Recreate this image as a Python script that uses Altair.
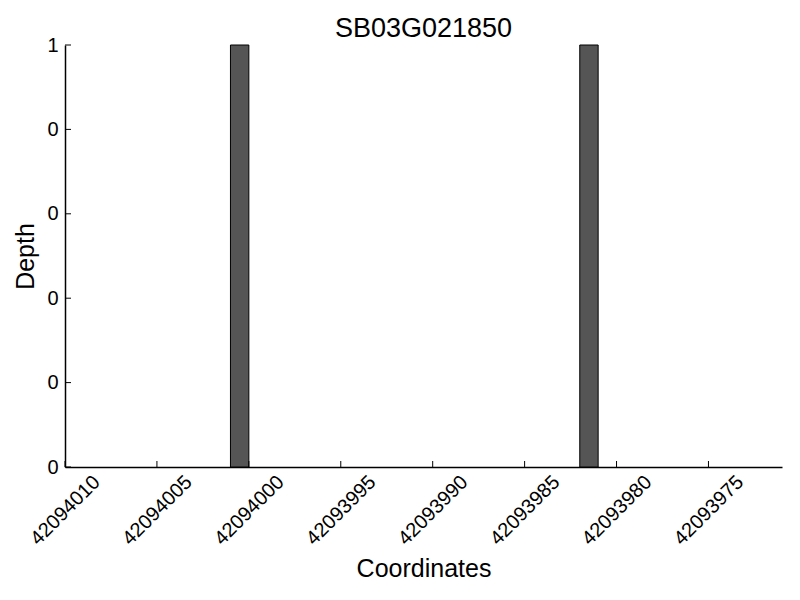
import altair as alt
import pandas as pd

# data
bar_start = [42094000, 42093981]
bar_end = [42094001, 42093982]
depth = [1, 1]
x_ticks = [42094010, 42094005, 42094000, 42093995, 42093990, 42093985, 42093980, 42093975]
y_ticks = [0, 0.2, 0.4, 0.6, 0.8, 1.0]
x_domain = [42093971, 42094010]

W, H = 717, 422
FONT = "Liberation Sans"

bars = pd.DataFrame({"x": bar_start, "x2": bar_end, "y": depth})
xt = pd.DataFrame({"x": x_ticks})
yt = pd.DataFrame({"y": y_ticks})

xscale = alt.Scale(domain=x_domain, reverse=True, nice=False, zero=False)
yscale = alt.Scale(domain=[0, 1], nice=False)

xaxis = alt.Axis(values=x_ticks, format="d", labelAngle=-45, labelAlign="center",
                 labelBaseline="middle", labelPadding=43, tickSize=0,
                 labelFontSize=20, titleFontSize=25, labelFont=FONT, titleFont=FONT,
                 labelColor="black", titleColor="black", domainColor="black",
                 domainWidth=1.5, grid=False, titleFontWeight="normal",
                 titlePadding=8, labelOverlap=False, labelFlush=False)
yaxis = alt.Axis(values=y_ticks, labelExpr="'' + floor(datum.value)", tickSize=0,
                 labelPadding=7, labelFontSize=20, titleFontSize=25,
                 labelFont=FONT, titleFont=FONT, labelColor="black",
                 titleColor="black", domainColor="black", domainWidth=1.5,
                 grid=False, titleFontWeight="normal", titlePadding=8,
                 labelOverlap=False, labelFlush=False)

bar_layer = alt.Chart(bars).mark_rect(fill="#555555", stroke="black", strokeWidth=1).encode(
    x=alt.X("x:Q", scale=xscale, title="Coordinates", axis=xaxis),
    x2="x2:Q",
    y=alt.Y("y:Q", scale=yscale, title="Depth", axis=yaxis),
    y2=alt.Y2(datum=0),
)

xtick_layer = alt.Chart(xt).mark_rule(color="black", strokeWidth=1).encode(
    x=alt.X("x:Q", scale=xscale, title="Coordinates", axis=xaxis),
    y=alt.value(H),
    y2=alt.value(H - 6),
)

ytick_layer = alt.Chart(yt).mark_rule(color="black", strokeWidth=1).encode(
    y=alt.Y("y:Q", scale=yscale, title="Depth", axis=yaxis),
    x=alt.value(0),
    x2=alt.value(6),
)

chart = alt.layer(bar_layer, xtick_layer, ytick_layer).properties(
    width=W, height=H,
    title=alt.TitleParams("SB03G021850", fontSize=27, font=FONT, fontWeight="normal",
                          color="black", offset=6, dy=14),
    autosize=alt.AutoSizeParams(type="none"),
    padding={"left": 57, "top": 37, "right": 10, "bottom": 125},
).configure_view(stroke=None)

chart.save("out.html", embed_options={"renderer": "svg", "actions": False})
